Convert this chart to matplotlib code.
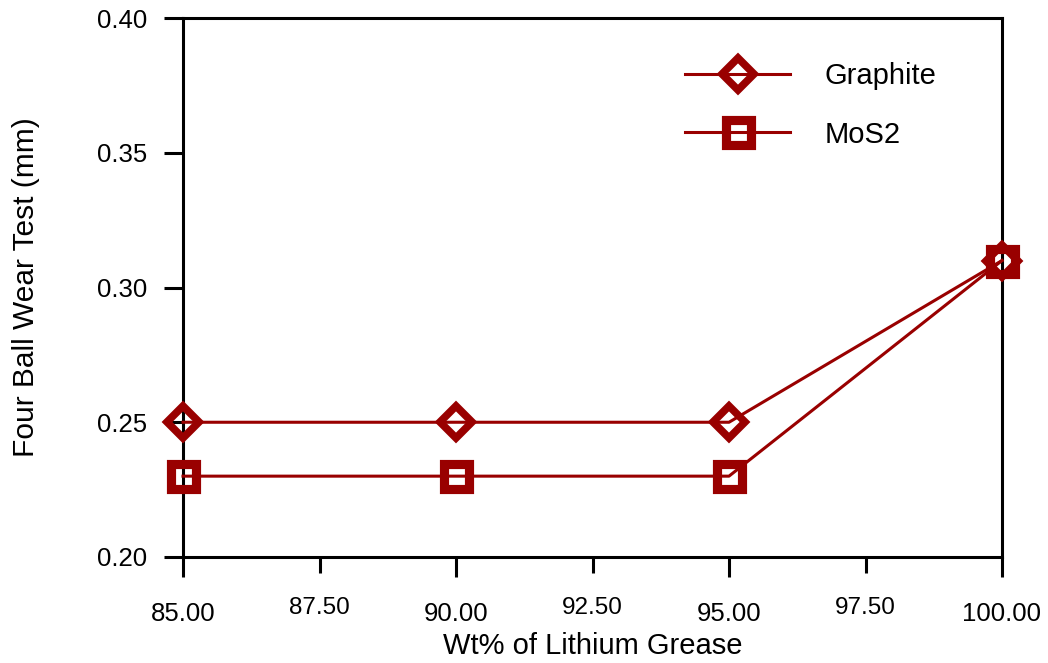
import matplotlib
matplotlib.use("Agg")
import matplotlib.pyplot as plt
from matplotlib.ticker import FixedLocator, FixedFormatter

plt.rcParams['font.family'] = ['Liberation Sans', 'DejaVu Sans']

wt = [85, 90, 95, 100]
graphite = [0.25, 0.25, 0.25, 0.31]
mos2 = [0.23, 0.23, 0.23, 0.31]
major_x = [85, 90, 95, 100]
minor_x = [87.5, 92.5, 97.5]
y_ticks = [0.20, 0.25, 0.30, 0.35, 0.40]

color = '#990000'
fig = plt.figure(figsize=(10.48, 6.63), dpi=100)
ax = fig.add_axes([183/1048, 1-557/663, (1002-183)/1048, (557-18)/663])

ax.plot(wt, graphite, color=color, lw=2.2, marker='D', ms=16, mfc='none',
        mec=color, mew=5.5, label='Graphite', clip_on=False, zorder=3)
ax.plot(wt, mos2, color=color, lw=2.2, marker='s', ms=18, mfc='none',
        mec=color, mew=6.6, label='MoS2', clip_on=False, zorder=3)

ax.set_xlim(85, 100)
ax.set_ylim(0.20, 0.40)
ax.xaxis.set_major_locator(FixedLocator(major_x))
ax.xaxis.set_major_formatter(FixedFormatter([f"{v:.2f}" for v in major_x]))
ax.xaxis.set_minor_locator(FixedLocator(minor_x))
ax.xaxis.set_minor_formatter(FixedFormatter([f"{v:.2f}" for v in minor_x]))
ax.set_yticks(y_ticks)
ax.set_yticklabels([f"{v:.2f}" for v in y_ticks])

ax.tick_params(axis='x', which='major', direction='out', length=14.5, width=2.2,
               labelsize=18.5, pad=18)
ax.tick_params(axis='x', which='minor', direction='out', length=11.5, width=2.2,
               labelsize=17.5, pad=17)
ax.tick_params(axis='y', direction='out', length=14, width=2.2, labelsize=18.5, pad=12)

for s in ax.spines.values():
    s.set_linewidth(2.2)
    s.set_color('black')

ax.set_xlabel('Wt% of Lithium Grease', fontsize=21, labelpad=4)
ax.set_ylabel('Four Ball Wear Test (mm)', fontsize=21.5, labelpad=41)

ax.legend(loc='upper left', bbox_to_anchor=((685-183)/819, (557-62)/539), frameon=False,
          fontsize=21, handlelength=3.6, handletextpad=1.2, labelspacing=1.05,
          borderpad=0, borderaxespad=0)

fig.savefig('out.png', dpi=100)
